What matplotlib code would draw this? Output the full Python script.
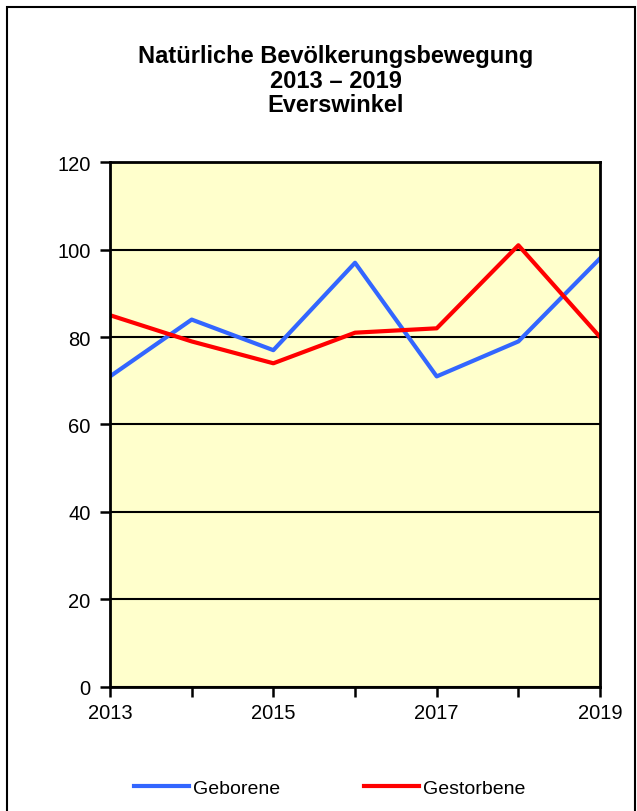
import matplotlib.pyplot as plt
from matplotlib.patches import Rectangle

plt.rcParams['font.family'] = ['Liberation Sans', 'DejaVu Sans']

years = [2013, 2014, 2015, 2016, 2017, 2018, 2019]
geborene = [71, 84, 77, 97, 71, 79, 98]
gestorbene = [85, 79, 74, 81, 82, 101, 80]
y_ticks = [0, 20, 40, 60, 80, 100, 120]
x_labels = [2013, 2015, 2017, 2019]

fig = plt.figure(figsize=(6.37, 8.12), dpi=100)

# outer frame
fig.patches.append(Rectangle((0.011, -0.01), 0.986, 1.0, transform=fig.transFigure,
                             fill=False, edgecolor='black', linewidth=1.5))

ax = fig.add_axes([0.1727, 0.153, 0.7693, 0.646])
ax.set_facecolor('#FFFFCC')

ax.plot(years, geborene, color='#3366FF', linewidth=3, label='Geborene')
ax.plot(years, gestorbene, color='#FF0000', linewidth=3, label='Gestorbene')

ax.set_xlim(2013, 2019)
ax.set_ylim(0, 120)
ax.set_yticks(y_ticks)
ax.set_xticks(years)
ax.set_xticklabels([str(y) if y in x_labels else '' for y in years])
ax.yaxis.grid(True, color='black', linewidth=1.5)
ax.set_axisbelow(True)
for s in ax.spines.values():
    s.set_linewidth(2)
ax.tick_params(axis='both', direction='out', length=7, width=1.8, labelsize=14.5)
ax.tick_params(axis='y', pad=7)
ax.tick_params(axis='x', pad=5)

fig.text(0.527, 0.9, 'Natürliche Bevölkerungsbewegung\n2013 – 2019\nEverswinkel',
         ha='center', va='center', fontsize=17, fontweight='bold', linespacing=1.07)

fig.legend(loc='center', bbox_to_anchor=(0.518, 0.028), ncol=2, frameon=False,
           fontsize=14, handlelength=2.8, handletextpad=0.25, columnspacing=4.3)

fig.savefig('out.png', dpi=100)
